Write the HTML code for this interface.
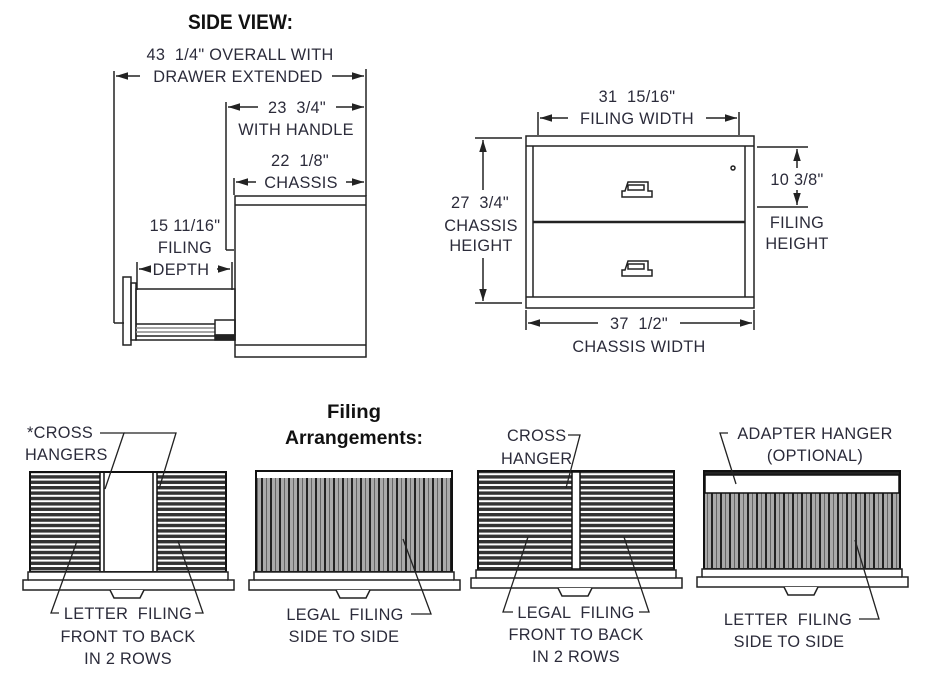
<!DOCTYPE html>
<html><head><meta charset="utf-8"><style>
html,body{margin:0;padding:0;background:#fff;}
svg{display:block;}
text{font-family:"Liberation Sans",sans-serif;font-size:16.3px;fill:#2b2b3a;letter-spacing:0.3px;white-space:pre;}
text.b{font-weight:bold;fill:#111;letter-spacing:0;font-size:21px;}
</style></head><body>
<svg width="926" height="698" viewBox="0 0 926 698" xmlns="http://www.w3.org/2000/svg" xml:space="preserve">
<defs>
<pattern id="hs" width="10" height="5.4" patternUnits="userSpaceOnUse"><rect width="10" height="5.4" fill="#fff"/><rect width="10" height="3.4" fill="#333"/></pattern>
<pattern id="vs" width="9" height="10" patternUnits="userSpaceOnUse"><rect width="9" height="10" fill="#a9a9a9"/><rect width="2" height="10" fill="#222"/><rect x="5" width="1" height="10" fill="#666"/></pattern>
<marker id="ar" markerWidth="8" markerHeight="6" refX="8" refY="3" orient="auto"><path d="M0,0.5 L8,3 L0,5.5z" fill="#222"/></marker>
</defs>
<g stroke="#222" stroke-width="1.5" fill="none">
<line x1="114" y1="71" x2="114" y2="323"/><line x1="114" y1="323" x2="124" y2="323"/>
<line x1="366" y1="69" x2="366" y2="196"/>
<line x1="140" y1="76" x2="116" y2="76" marker-end="url(#ar)"/><line x1="332" y1="76" x2="364" y2="76" marker-end="url(#ar)"/>
<line x1="226" y1="102" x2="226" y2="250"/><line x1="226" y1="250" x2="234" y2="250"/>
<line x1="258" y1="107" x2="228" y2="107" marker-end="url(#ar)"/><line x1="336" y1="107" x2="364" y2="107" marker-end="url(#ar)"/>
<line x1="234" y1="178" x2="234" y2="195"/>
<line x1="256" y1="182" x2="236" y2="182" marker-end="url(#ar)"/><line x1="346" y1="182" x2="364" y2="182" marker-end="url(#ar)"/>
<line x1="137" y1="262" x2="137" y2="290"/><line x1="232" y1="262" x2="232" y2="290"/>
<line x1="145" y1="269" x2="139" y2="269" marker-end="url(#ar)"/><line x1="217" y1="269" x2="230" y2="269" marker-end="url(#ar)"/>
<rect x="235" y="196" width="131" height="161"/>
<line x1="235" y1="205" x2="366" y2="205"/><line x1="235" y1="345" x2="366" y2="345"/>
<rect x="123" y="277" width="8" height="68"/><rect x="131" y="283" width="5" height="57"/>
<rect x="136" y="289" width="99" height="51"/>
<line x1="136" y1="324" x2="215" y2="324"/><line x1="136" y1="328" x2="215" y2="328" stroke="#888"/><line x1="136" y1="332" x2="215" y2="332" stroke="#888"/><line x1="136" y1="336" x2="215" y2="336"/>
<rect x="215" y="320" width="20" height="15"/><rect x="215" y="335" width="20" height="5" fill="#222"/>
<rect x="526" y="136" width="228" height="172"/>
<line x1="526" y1="146" x2="754" y2="146"/><line x1="526" y1="297" x2="754" y2="297"/>
<line x1="533" y1="146" x2="533" y2="297"/><line x1="745" y1="146" x2="745" y2="297"/>
<line x1="533" y1="222" x2="745" y2="222" stroke-width="2.5"/>
<circle cx="733" cy="168" r="2"/>
<line x1="538" y1="112" x2="538" y2="135"/><line x1="739" y1="112" x2="739" y2="135"/>
<line x1="568" y1="118" x2="540" y2="118" marker-end="url(#ar)"/><line x1="706" y1="118" x2="737" y2="118" marker-end="url(#ar)"/>
<line x1="475" y1="138" x2="522" y2="138"/><line x1="475" y1="303" x2="522" y2="303"/>
<line x1="483" y1="190" x2="483" y2="140" marker-end="url(#ar)"/><line x1="483" y1="258" x2="483" y2="301" marker-end="url(#ar)"/>
<line x1="757" y1="147" x2="808" y2="147"/><line x1="757" y1="207" x2="808" y2="207"/>
<line x1="797" y1="168" x2="797" y2="149" marker-end="url(#ar)"/><line x1="797" y1="190" x2="797" y2="205" marker-end="url(#ar)"/>
<line x1="526" y1="310" x2="526" y2="330"/><line x1="754" y1="310" x2="754" y2="330"/>
<line x1="598" y1="323" x2="528" y2="323" marker-end="url(#ar)"/><line x1="680" y1="323" x2="752" y2="323" marker-end="url(#ar)"/>
<path d="M622,197 h30 v-6 h-4 v-9 h-20 l-3,9 h-3z M628,185 h16 v5 h-16z"/>
<path d="M622,276 h30 v-6 h-4 v-9 h-20 l-3,9 h-3z M628,264 h16 v5 h-16z"/>
</g>
<g stroke="#111" stroke-width="2">
<rect x="30" y="472" width="196" height="100" fill="url(#hs)"/>
<rect x="100" y="473" width="57" height="98" fill="#fff" stroke="none"/>
<line x1="104" y1="473" x2="104" y2="571" stroke-width="1.5"/><line x1="153" y1="473" x2="153" y2="571" stroke-width="1.5"/>
<line x1="100" y1="473" x2="100" y2="571" stroke-width="1.5"/><line x1="157" y1="473" x2="157" y2="571" stroke-width="1.5"/>
<rect x="256" y="471" width="196" height="101" fill="url(#vs)"/>
<rect x="257" y="472" width="194" height="6" fill="#fff" stroke="none"/>
<rect x="478" y="471" width="196" height="99" fill="url(#hs)"/>
<rect x="572" y="472" width="8" height="97" fill="#fff" stroke-width="1.5"/>
<rect x="704" y="471" width="196" height="98" fill="url(#vs)"/>
<rect x="705" y="472" width="194" height="3" fill="#222" stroke="none"/>
<rect x="705" y="475" width="194" height="18" fill="#fff" stroke-width="1.5"/>
</g>
<g stroke="#222" stroke-width="1.5" fill="#fff">
<path d="M28,572 h200 v8 h6 v10 h-211 v-10 h5z"/><line x1="28" y1="580" x2="228" y2="580"/>
<path d="M110,590 l4,8 h26 l4,-8"/>
<path d="M254,572 h200 v8 h6 v10 h-211 v-10 h5z"/><line x1="254" y1="580" x2="454" y2="580"/>
<path d="M336,590 l4,8 h26 l4,-8"/>
<path d="M476,570 h200 v8 h6 v10 h-211 v-10 h5z"/><line x1="476" y1="578" x2="676" y2="578"/>
<path d="M558,588 l4,8 h26 l4,-8"/>
<path d="M702,569 h200 v8 h6 v10 h-211 v-10 h5z"/><line x1="702" y1="577" x2="902" y2="577"/>
<path d="M784,587 l4,8 h26 l4,-8"/>
</g>
<g stroke="#222" stroke-width="1.3" fill="none">
<path d="M100,433 h24 l-19,56"/><path d="M124,433 h52 l-17,56"/>
<path d="M77,541 l-26,72 h8"/><path d="M178,541 l25,72 h-8"/>
<path d="M403,539 l28,75 h-20"/>
<path d="M568,435 h12 l-14,53"/>
<path d="M528,537 l-25,75 h10"/><path d="M624,537 l25,75 h-10"/>
<path d="M728,433 h-8 l16,51"/>
<path d="M855,540 l24,79 h-20"/>
</g>
<text x="188" y="29" class="b" textLength="105" lengthAdjust="spacingAndGlyphs">SIDE VIEW:</text>
<text x="327" y="418" class="b" style="font-size:19px" textLength="54" lengthAdjust="spacingAndGlyphs">Filing</text>
<text x="285" y="444" class="b" style="font-size:19px" textLength="138" lengthAdjust="spacingAndGlyphs">Arrangements:</text>
<text x="240" y="60" text-anchor="middle">43  1/4" OVERALL WITH</text>
<text x="238" y="82" text-anchor="middle">DRAWER EXTENDED</text>
<text x="297" y="113" text-anchor="middle">23  3/4"</text>
<text x="296" y="135" text-anchor="middle">WITH HANDLE</text>
<text x="300" y="166" text-anchor="middle">22  1/8"</text>
<text x="301" y="188" text-anchor="middle">CHASSIS</text>
<text x="185" y="231" text-anchor="middle">15 11/16"</text>
<text x="185" y="253" text-anchor="middle">FILING</text>
<text x="181" y="275" text-anchor="middle">DEPTH</text>
<text x="637" y="102" text-anchor="middle">31  15/16"</text>
<text x="637" y="124" text-anchor="middle">FILING WIDTH</text>
<text x="480" y="208" text-anchor="middle">27  3/4"</text>
<text x="481" y="231" text-anchor="middle">CHASSIS</text>
<text x="481" y="251" text-anchor="middle">HEIGHT</text>
<text x="797" y="185" text-anchor="middle">10 3/8"</text>
<text x="797" y="228" text-anchor="middle">FILING</text>
<text x="797" y="249" text-anchor="middle">HEIGHT</text>
<text x="639" y="329" text-anchor="middle">37  1/2"</text>
<text x="639" y="352" text-anchor="middle">CHASSIS WIDTH</text>
<text x="27" y="438">*CROSS</text>
<text x="25" y="460">HANGERS</text>
<text x="128" y="619" text-anchor="middle">LETTER  FILING</text>
<text x="128" y="642" text-anchor="middle">FRONT TO BACK</text>
<text x="128" y="664" text-anchor="middle">IN 2 ROWS</text>
<text x="345" y="620" text-anchor="middle">LEGAL  FILING</text>
<text x="344" y="642" text-anchor="middle">SIDE TO SIDE</text>
<text x="507" y="441">CROSS</text>
<text x="501" y="464">HANGER</text>
<text x="576" y="618" text-anchor="middle">LEGAL  FILING</text>
<text x="576" y="640" text-anchor="middle">FRONT TO BACK</text>
<text x="576" y="662" text-anchor="middle">IN 2 ROWS</text>
<text x="815" y="439" text-anchor="middle">ADAPTER HANGER</text>
<text x="815" y="461" text-anchor="middle">(OPTIONAL)</text>
<text x="788" y="625" text-anchor="middle">LETTER  FILING</text>
<text x="789" y="647" text-anchor="middle">SIDE TO SIDE</text>
</svg>
</body></html>
